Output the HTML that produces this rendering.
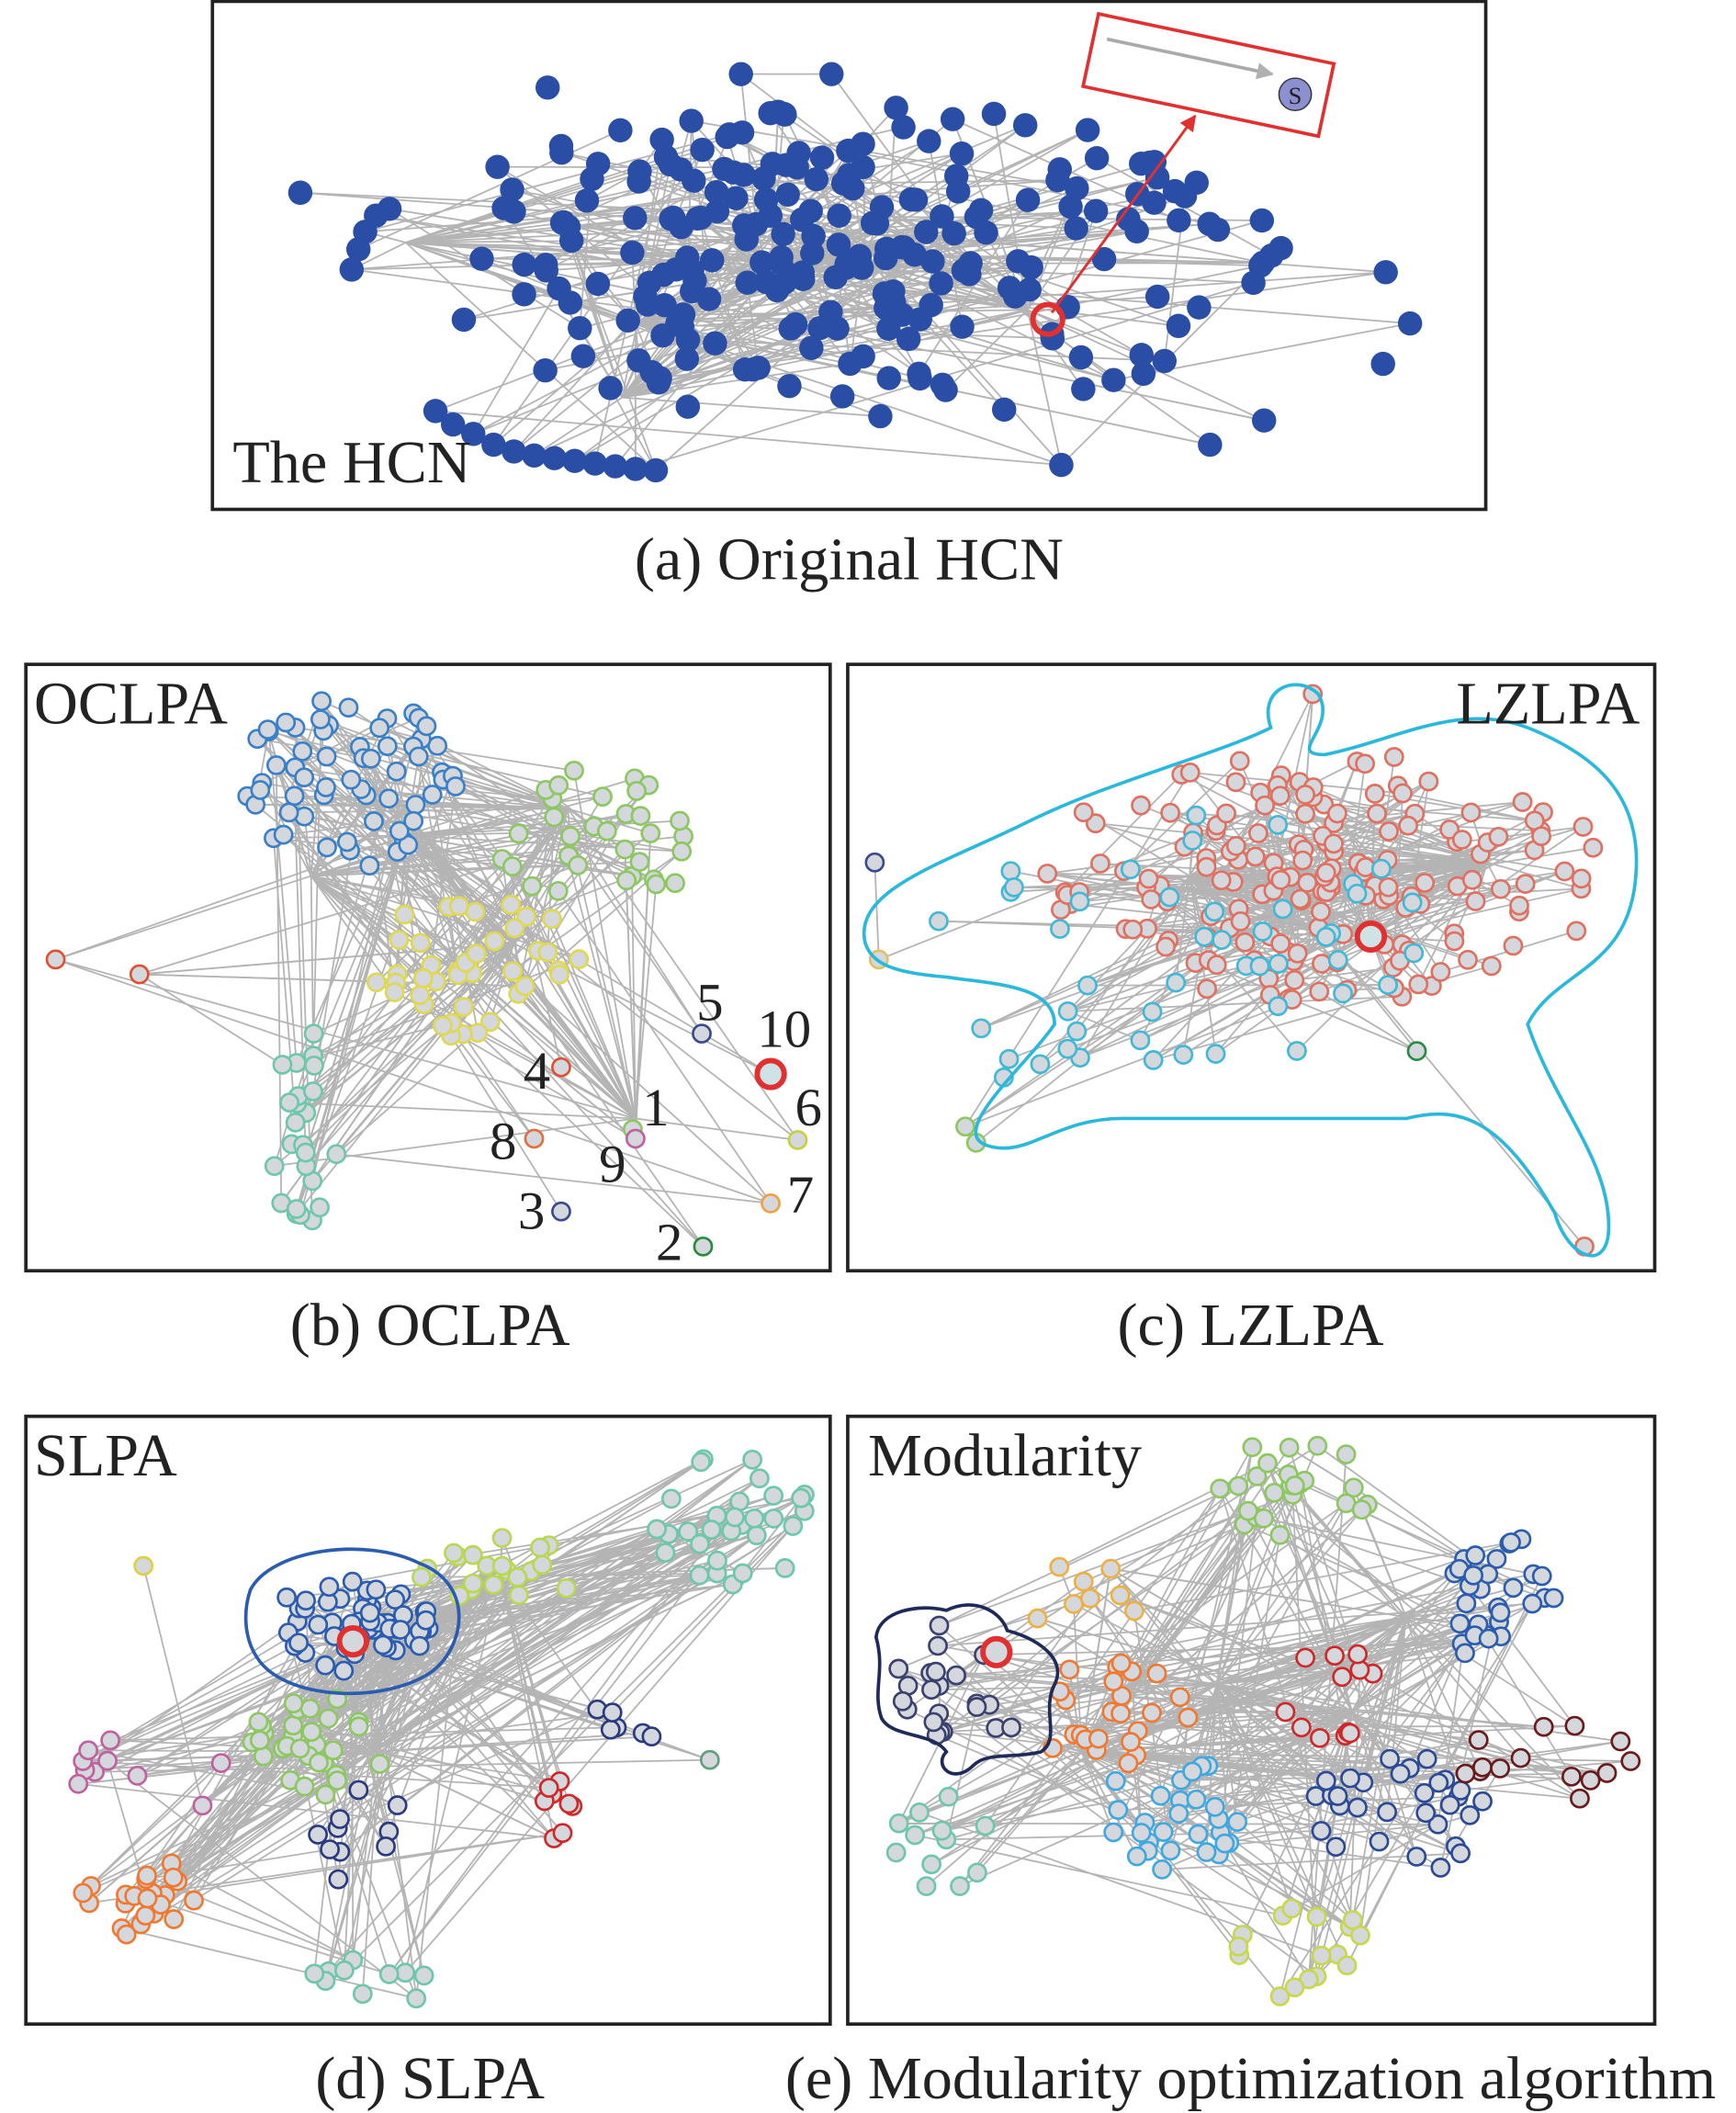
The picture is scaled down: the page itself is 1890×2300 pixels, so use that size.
<!DOCTYPE html>
<html><head><meta charset="utf-8"><style>
html,body{margin:0;padding:0;background:#fff;width:1890px;height:2300px;overflow:hidden}
svg{display:block}
text{font-family:"Liberation Serif",serif;fill:#222}
</style></head><body>
<svg id="s" width="1890" height="2300" viewBox="0 0 1274 1568" preserveAspectRatio="none" xmlns="http://www.w3.org/2000/svg">
<defs>
<marker id="ar" viewBox="0 0 10 10" refX="9" refY="5" markerWidth="5" markerHeight="5" orient="auto"><path d="M0,0L10,5L0,10z" fill="#b0b0b0"/></marker>
<marker id="rr" viewBox="0 0 10 10" refX="9" refY="5" markerWidth="6" markerHeight="6" orient="auto"><path d="M0,0L10,5L0,10z" fill="#e03030"/></marker>
</defs>
<g transform="translate(18,0) scale(0.992,1) translate(-18,0)">
<g id="edges"></g>
<g id="nodes"></g>
<g fill="none" stroke="#222" stroke-width="2.5">
<rect x="157" y="1" width="942" height="377"/>
<rect x="19" y="493" width="595" height="450"/>
<rect x="627" y="493" width="597" height="450"/>
<rect x="19" y="1051" width="595" height="451"/>
<rect x="627" y="1051" width="597" height="451"/>
</g>
<path d="M640,700 C630,660 700,640 760,610 C820,580 900,560 940,540 C930,510 960,500 975,515 C990,540 950,560 980,560 C1030,550 1080,520 1130,540 C1180,560 1215,590 1210,650 C1205,720 1150,720 1130,760 C1150,820 1190,860 1190,910 C1190,945 1160,935 1150,900 C1110,830 1080,820 1040,830 C980,830 900,830 830,830 C780,830 760,860 730,850 C700,840 760,790 780,760 C780,730 730,730 700,725 C660,722 645,715 640,700Z" fill="none" stroke="#2ab8dc" stroke-width="2.5"/>
<path d="M185,1180 C200,1150 270,1140 310,1160 C350,1175 345,1220 320,1240 C285,1265 210,1262 190,1230 C180,1215 180,1195 185,1180Z" fill="none" stroke="#2a5cb0" stroke-width="2.5"/>
<path d="M648,1215 C650,1195 680,1190 700,1195 C720,1185 740,1195 745,1210 C765,1215 790,1230 780,1250 C770,1270 785,1290 770,1300 C750,1305 730,1300 720,1310 C705,1325 690,1310 700,1300 C690,1285 660,1290 652,1275 C645,1255 655,1240 648,1215Z" fill="none" stroke="#1e2a5a" stroke-width="2.5"/>
<g transform="rotate(12 893 55)"><rect x="805" y="28" width="178" height="55" fill="#fff" stroke="#e03030" stroke-width="2.5"/>
<line x1="815" y1="45" x2="940" y2="45" stroke="#aaa" stroke-width="2.5" marker-end="url(#ar)"/></g>
<circle cx="958" cy="70" r="12" fill="#8c8fd0" stroke="#333" stroke-width="1"/>
<text x="958" y="77" font-size="18" text-anchor="middle">S</text>
<line x1="778" y1="232" x2="884" y2="86" stroke="#e03030" stroke-width="2" marker-end="url(#rr)"/>
<circle cx="775" cy="237" r="11" fill="none" stroke="#e03030" stroke-width="4"/>
<circle cx="570" cy="797" r="10" fill="#cfe3e6" stroke="#e03030" stroke-width="4"/>
<circle cx="1014" cy="695" r="10" fill="#cfe3e6" stroke="#e03030" stroke-width="4"/>
<circle cx="261" cy="1218" r="10" fill="#d4d7db" stroke="#e03030" stroke-width="4"/>
<circle cx="737" cy="1226" r="10" fill="#d4d7db" stroke="#e03030" stroke-width="4"/>
<text x="172" y="358" font-size="45">The HCN</text>
<text x="628" y="430" font-size="45" text-anchor="middle">(a) Original HCN</text>
<text x="25" y="537" font-size="45">OCLPA</text>
<text x="1213" y="537" font-size="45" text-anchor="end">LZLPA</text>
<text x="25" y="1095" font-size="45">SLPA</text>
<text x="642" y="1095" font-size="45">Modularity</text>
<text x="318" y="998" font-size="45" text-anchor="middle">(b) OCLPA</text>
<text x="925" y="998" font-size="45" text-anchor="middle">(c) LZLPA</text>
<text x="318" y="1557" font-size="45" text-anchor="middle">(d) SLPA</text>
<text x="925" y="1557" font-size="45" text-anchor="middle">(e) Modularity optimization algorithm</text>
<g font-size="40"><text x="515" y="757">5</text><text x="560" y="777">10</text><text x="387" y="808">4</text><text x="475" y="835">1</text><text x="588" y="835">6</text><text x="362" y="860">8</text><text x="443" y="877">9</text><text x="582" y="900">7</text><text x="383" y="912">3</text><text x="485" y="935">2</text></g>
</g>
</svg>
<script>
(function(){
var seed=7;function r(){seed=(seed*16807)%2147483647;return (seed-1)/2147483646;}
var E=document.getElementById('edges'),N=document.getElementById('nodes'),ns="http://www.w3.org/2000/svg";
function el(p,t,a){var e=document.createElementNS(ns,t);for(var k in a)e.setAttribute(k,a[k]);p.appendChild(e);return e;}
function pd(){var a=r()*6.2832,d=Math.pow(r(),0.6);return [Math.cos(a)*d,Math.sin(a)*d];}
function panel(cl,hubs,ne,style,extra){
 var pts=[];
 cl.forEach(function(c){for(var i=0;i<c[4];i++){var q=pd();pts.push([c[0]+q[0]*c[2],c[1]+q[1]*c[3],c[5]]);}});
 (extra||[]).forEach(function(p){pts.push(p);});
 for(var i=0;i<ne;i++){var a=r()<0.6?hubs[Math.floor(r()*hubs.length)]:pts[Math.floor(r()*pts.length)];var b=pts[Math.floor(r()*pts.length)];
  el(E,'line',{x1:a[0],y1:a[1],x2:b[0],y2:b[1],stroke:'#b4b4b4','stroke-width':1.2,'marker-end':'url(#ar)'});}
 pts.forEach(function(p){if(style=='a')el(N,'circle',{cx:p[0],cy:p[1],r:9,fill:'#2a4ea6'});else el(N,'circle',{cx:p[0],cy:p[1],r:6.5,fill:'#d4d7db',stroke:p[2],'stroke-width':1.8});});
}
panel([[620,195,330,120,190,''],[560,200,170,80,40,'']],[[460,295],[570,205],[470,240],[640,190],[300,180],[760,230]],380,'a',
 [[322,305],[335,315],[350,322],[365,330],[380,335],[395,338],[410,340],[425,342],[440,344],[455,346],[470,348],[485,349],[260,200],[265,185],[270,172],[278,160],[288,155],[222,143],[1043,240],[1023,270],[1025,202],[935,312],[785,345],[895,330],[405,65],[548,55],[615,55]]);
panel([[258,580,85,65,60,'#3a80c8'],[440,625,75,55,32,'#8cc860'],[350,720,85,55,40,'#e0d850'],[225,860,25,50,18,'#6cc8a8'],[225,790,20,40,6,'#6cc8a8']],[[300,620],[380,700],[420,600],[470,830],[230,650]],330,'b',
 [[41,712,'#e05030'],[103,723,'#e05030'],[519,767,'#3a4a90'],[415,792,'#e05030'],[468,838,'#8cc860'],[590,846,'#c8d040'],[395,845,'#e07040'],[470,845,'#c060a0'],[570,893,'#f0a040'],[415,899,'#3a4a90'],[520,925,'#2a8a40'],[570,797,'#e03030']]);
panel([[980,650,210,95,170,'#e07060'],[880,700,190,95,40,'#40b8d8'],[770,790,70,45,6,'#40b8d8']],[[960,670],[1014,695],[880,650],[1100,640]],380,'c',
 [[647,640,'#3a4a90'],[650,712,'#e0c060'],[714,836,'#8cc860'],[722,848,'#8cc860'],[1172,925,'#e07060'],[1048,780,'#2a8a40'],[971,515,'#e07060']]);
panel([[260,1205,60,35,55,'#2a5cb0'],[545,1130,60,55,30,'#6cc8a8'],[370,1165,60,30,20,'#b8d850'],[235,1295,50,40,30,'#8cc860'],[110,1320,65,40,10,'#c060a0'],[110,1410,55,30,22,'#f07830'],[280,1455,55,35,10,'#6cc8a8'],[260,1360,40,40,10,'#2a3a80'],[420,1340,30,30,8,'#d02828'],[480,1275,45,25,6,'#2a3a80']],[[260,1220],[275,1300],[370,1170],[230,1280]],420,'d',
 [[106,1162,'#e0d040'],[525,1306,'#60a080']]);
panel([[955,1105,65,35,25,'#8cc860'],[1100,1180,55,50,30,'#2a5cb0'],[820,1270,60,40,25,'#f07830'],[705,1255,55,50,22,'#3a4070'],[870,1345,60,45,28,'#40a8e0'],[1040,1345,75,45,30,'#2a4a98'],[1140,1305,70,35,14,'#6a1a1a'],[990,1250,55,45,12,'#d02828'],[700,1365,45,45,12,'#6cc8a8'],[960,1450,65,35,16,'#c8d848'],[800,1190,45,35,8,'#f0b040']],[[900,1250],[1000,1270],[800,1300],[1040,1200]],430,'e',[]);
})();
</script>
</body></html>
